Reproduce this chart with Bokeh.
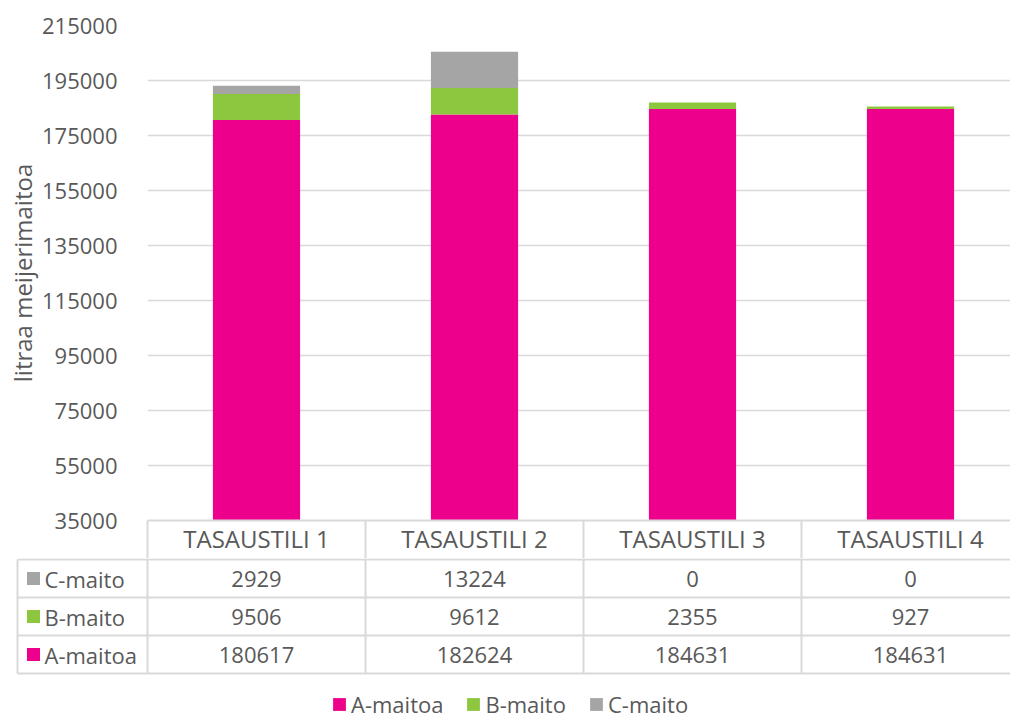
from bokeh.plotting import figure
from bokeh.models import (Range1d, FixedTicker, Legend, LegendItem, ColumnDataSource,
                          BasicTickFormatter)
from bokeh.layouts import column
from bokeh.embed import file_html
from bokeh.resources import INLINE
from bokeh.core.properties import value

# ---------------- data ----------------
categories = ["TASAUSTILI 1", "TASAUSTILI 2", "TASAUSTILI 3", "TASAUSTILI 4"]
series = ["A-maitoa", "B-maito", "C-maito"]
a_maitoa = [180617, 182624, 184631, 184631]
b_maito = [9506, 9612, 2355, 927]
c_maito = [2929, 13224, 0, 0]
colors = ["#EC008C", "#8DC63F", "#A5A5A5"]
y_ticks = [35000, 55000, 75000, 95000, 115000, 135000, 155000, 175000, 195000, 215000]
y_label = "litraa meijerimaitoa"

# ---------------- style ----------------
FONT = "Open Sans"
TXT = "#595959"
GRID = "#D9D9D9"
W = 1010
COL = 218          # pixel width of one category column
LEFT = 147         # left border of plot frame
x_end = (W - LEFT) / COL
TOP_H = 558
TAB_H = 719 - TOP_H

xs = [i + 0.5 for i in range(len(categories))]
src = ColumnDataSource(dict(x=xs, A=a_maitoa, B=b_maito, C=c_maito))

# ---------------- chart ----------------
p = figure(width=W, height=TOP_H, x_range=Range1d(0, x_end), y_range=Range1d(35000, 215000),
           output_backend="svg", toolbar_location=None,
           min_border_left=LEFT, min_border_right=0, min_border_top=25, min_border_bottom=38)
p.frame_align = False
p.outline_line_color = None
p.vbar_stack(["A", "B", "C"], x="x", width=0.4, color=colors, source=src, line_width=0)

yt = FixedTicker(ticks=y_ticks)
p.yaxis.ticker = yt
p.yaxis.formatter = BasicTickFormatter(use_scientific=False)
p.yaxis.axis_line_color = None
p.yaxis.major_tick_line_color = None
p.yaxis.minor_tick_line_color = None
p.yaxis.major_label_text_font = FONT
p.yaxis.major_label_text_font_size = "22px"
p.yaxis.major_label_text_color = TXT
p.yaxis.major_label_standoff = 24
p.yaxis.axis_label = y_label
p.yaxis.axis_label_text_font = FONT
p.yaxis.axis_label_text_font_size = "24px"
p.yaxis.axis_label_text_font_style = "normal"
p.yaxis.axis_label_text_color = TXT
p.yaxis.axis_label_standoff = 0

p.ygrid.ticker = yt
p.ygrid.grid_line_color = GRID
p.ygrid.grid_line_width = 1.5
p.xgrid.grid_line_color = None

p.xaxis.ticker = FixedTicker(ticks=xs, minor_ticks=list(range(len(categories) + 1)))
p.xaxis.major_label_overrides = {x: c for x, c in zip(xs, categories)}
p.xaxis.major_tick_out = 0
p.xaxis.major_tick_in = 0
p.xaxis.minor_tick_out = 38
p.xaxis.minor_tick_in = 0
p.xaxis.minor_tick_line_color = GRID
p.xaxis.minor_tick_line_width = 2
p.xaxis.axis_line_color = GRID
p.xaxis.axis_line_width = 2
p.xaxis.major_label_text_font = FONT
p.xaxis.major_label_text_font_size = "24px"
p.xaxis.major_label_text_color = TXT
p.xaxis.major_label_standoff = -37

# ---------------- data table ----------------
ROW = 38
label_left = (17 - LEFT) / COL
t = figure(width=W, height=TAB_H, x_range=Range1d(-LEFT / COL, x_end),
           y_range=Range1d((TAB_H - 1) / ROW, -1 / ROW),
           x_axis_type=None, y_axis_type=None,
           output_backend="svg", toolbar_location=None,
           min_border_left=0, min_border_right=0, min_border_top=0, min_border_bottom=0)
t.frame_align = False
t.outline_line_color = None
t.xgrid.grid_line_color = None
t.ygrid.grid_line_color = None

row_names = ["C-maito", "B-maito", "A-maitoa"]
row_values = [c_maito, b_maito, a_maitoa]
row_colors = [colors[2], colors[1], colors[0]]
nrows = len(row_names)

# grid lines of the table
hx0 = [label_left] * (nrows + 1)
hx1 = [x_end] * (nrows + 1)
hy = list(range(nrows + 1))
t.segment(x0=hx0, y0=hy, x1=hx1, y1=hy, line_color=GRID, line_width=2)
vx = [label_left] + list(range(len(categories) + 1))
vy0 = [0] + [-1 / ROW] * (len(categories) + 1)
vy1 = [nrows] * len(vx)
t.segment(x0=vx, y0=vy0, x1=vx, y1=vy1, line_color=GRID, line_width=2)

# values
tx, ty, tt = [], [], []
for r, vals in enumerate(row_values):
    for c, v in enumerate(vals):
        tx.append(c + 0.5)
        ty.append(r + 0.5)
        tt.append(str(v))
t.text(x=tx, y=ty, text=tt, text_font=value(FONT), text_font_size="22px",
       text_align="center", text_baseline="middle", text_color=TXT)

# row labels with colour keys
sq_x = (33 - LEFT) / COL
lab_x = (44 - LEFT) / COL
renderers = {}
for r, (name, col) in enumerate(zip(row_names, row_colors)):
    renderers[name] = t.rect(x=[sq_x], y=[r + 0.5], width=13, height=13,
                             width_units="screen", height_units="screen",
                             fill_color=col, line_color=None)
t.text(x=[lab_x] * nrows, y=[r + 0.5 for r in range(nrows)], text=row_names,
       text_font=value(FONT), text_font_size="22px", text_align="left",
       text_baseline="middle", text_color=TXT)

legend = Legend(items=[LegendItem(label=s, renderers=[renderers[s]]) for s in series],
                orientation="horizontal", location=(331, 0),
                glyph_width=16, glyph_height=16, label_standoff=4, spacing=22,
                padding=0, margin=0, border_line_color=None, background_fill_alpha=0,
                label_text_font=FONT, label_text_font_size="22px", label_text_color=TXT)
t.add_layout(legend)

layout = column(p, t)
open("out.html", "w").write(file_html(layout, INLINE))
